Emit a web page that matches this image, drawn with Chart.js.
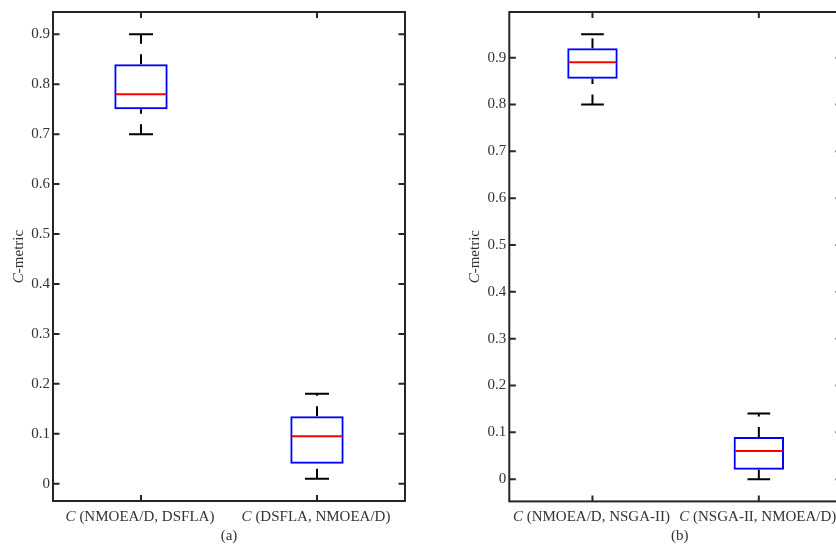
<!DOCTYPE html>
<html><head><meta charset="utf-8">
<script src="https://cdn.jsdelivr.net/npm/chart.js@4.4.1/dist/chart.umd.min.js"></script>
<style>
html,body{margin:0;padding:0;background:#fff;overflow:hidden;width:836px;height:544px;}
#wrap{position:relative;width:836px;height:544px;overflow:hidden;background:#fff;}
#ca{position:absolute;left:0;top:0;}
#cb{position:absolute;left:420px;top:0;}
</style></head><body>
<div id="wrap"><canvas id="ca" width="420" height="544"></canvas><canvas id="cb" width="430" height="544"></canvas></div>
<script>
// ---- data ----
const yTicks = [0, 0.1, 0.2, 0.3, 0.4, 0.5, 0.6, 0.7, 0.8, 0.9];

const categoriesA = ['C (NMOEA/D, DSFLA)', 'C (DSFLA, NMOEA/D)'];
const whiskerLowA  = [0.70, 0.01];
const q1A          = [0.75, 0.04];
const medianA      = [0.78, 0.095];
const q3A          = [0.84, 0.135];
const whiskerHighA = [0.90, 0.18];

const categoriesB = ['C (NMOEA/D, NSGA-II)', 'C (NSGA-II, NMOEA/D)'];
const whiskerLowB  = [0.80, 0.00];
const q1B          = [0.855, 0.02];
const medianB      = [0.89, 0.06];
const q3B          = [0.92, 0.09];
const whiskerHighB = [0.95, 0.14];

const yTitle = 'C-metric';
const captionA = '(a)';
const captionB = '(b)';

// ---- drawing helpers ----
const FAM = '"Liberation Serif", "Times New Roman", serif';
const TXT = '#333333';
Chart.defaults.font.family = FAM;

function drawMixed(ctx, text, cx, cy) {
  const first = text[0], rest = text.slice(1);
  ctx.font = 'italic 15px ' + FAM; const w1 = ctx.measureText(first).width;
  ctx.font = '15px ' + FAM; const w2 = ctx.measureText(rest).width;
  const sx = cx - (w1 + w2) / 2;
  ctx.textAlign = 'left'; ctx.textBaseline = 'middle'; ctx.fillStyle = TXT;
  ctx.font = 'italic 15px ' + FAM; ctx.fillText(first, sx, cy);
  ctx.font = '15px ' + FAM; ctx.fillText(rest, sx + w1, cy);
}

const boxExtras = {
  id: 'boxExtras',
  afterDatasetsDraw(chart) {
    const ctx = chart.ctx, y = chart.scales.y;
    chart.data.datasets.forEach((ds, di) => {
      const meta = chart.getDatasetMeta(di);
      meta.data.forEach((bar, i) => {
        const x = bar.x, w = bar.width;
        const yq1 = y.getPixelForValue(ds.data[i][0]);
        const yq3 = y.getPixelForValue(ds.data[i][1]);
        const yl = y.getPixelForValue(ds.whiskerLow[i]);
        const yh = y.getPixelForValue(ds.whiskerHigh[i]);
        const ym = y.getPixelForValue(ds.median[i]);
        ctx.save();
        ctx.strokeStyle = '#000'; ctx.lineWidth = 2; ctx.lineCap = 'butt';
        ctx.setLineDash([10, 10.5]);
        ctx.beginPath(); ctx.moveTo(x, yq3); ctx.lineTo(x, yh); ctx.stroke();
        ctx.beginPath(); ctx.moveTo(x, yl); ctx.lineTo(x, yq1); ctx.stroke();
        ctx.setLineDash([]);
        const cw = w * 0.45;
        ctx.beginPath();
        ctx.moveTo(x - cw / 2, yh); ctx.lineTo(x + cw / 2, yh);
        ctx.moveTo(x - cw / 2, yl); ctx.lineTo(x + cw / 2, yl);
        ctx.stroke();
        ctx.strokeStyle = '#ff0000';
        ctx.beginPath(); ctx.moveTo(x - w / 2 + 1.5, ym); ctx.lineTo(x + w / 2 - 1.5, ym); ctx.stroke();
        ctx.restore();
      });
    });
  }
};

const frame = {
  id: 'frame',
  afterDraw(chart, args, opts) {
    const ctx = chart.ctx, a = chart.chartArea, y = chart.scales.y, x = chart.scales.x;
    ctx.save();
    ctx.strokeStyle = '#262626'; ctx.lineWidth = 2;
    ctx.strokeRect(a.left, a.top, a.right - a.left, a.bottom - a.top);
    ctx.beginPath();
    y.ticks.forEach(t => {
      const py = y.getPixelForValue(t.value);
      ctx.moveTo(a.left, py); ctx.lineTo(a.left + 6.5, py);
      ctx.moveTo(a.right, py); ctx.lineTo(a.right - 6.5, py);
    });
    chart.data.labels.forEach((lab, i) => {
      const px = x.getPixelForValue(i);
      ctx.moveTo(px, a.top); ctx.lineTo(px, a.top + 6);
      ctx.moveTo(px, a.bottom); ctx.lineTo(px, a.bottom - 6);
    });
    ctx.stroke();
    // category labels
    chart.data.labels.forEach((lab, i) => {
      drawMixed(ctx, lab, x.getPixelForValue(i) - 1, a.bottom + 16);
    });
    // y title
    ctx.save();
    ctx.translate(a.left - 34, (a.top + a.bottom) / 2);
    ctx.rotate(-Math.PI / 2);
    drawMixed(ctx, opts.yTitle, 0, 0);
    ctx.restore();
    // caption
    ctx.font = '15px ' + FAM; ctx.fillStyle = TXT; ctx.textAlign = 'center'; ctx.textBaseline = 'middle';
    ctx.fillText(opts.caption, (a.left + a.right) / 2 + (opts.captionDx || 0), a.bottom + 35);
    ctx.restore();
  }
};

function makeChart(id, cats, lo, q1, med, q3, hi, caption, axisW, pad, captionDx) {
  const dmin = Math.min(...lo), dmax = Math.max(...hi), r = dmax - dmin;
  return new Chart(document.getElementById(id), {
    type: 'bar',
    data: {
      labels: cats,
      datasets: [{
        data: q1.map((v, i) => [v, q3[i]]),
        median: med, whiskerLow: lo, whiskerHigh: hi,
        backgroundColor: 'rgba(0,0,0,0)',
        borderColor: '#0000ff',
        borderWidth: 2,
        borderSkipped: false,
        barPercentage: 0.303,
        categoryPercentage: 1
      }]
    },
    options: {
      responsive: false, animation: false, devicePixelRatio: 1,
      layout: { padding: pad },
      plugins: { legend: { display: false }, tooltip: { enabled: false },
        frame: { yTitle: yTitle, caption: caption, captionDx: captionDx } },
      scales: {
        x: { display: false, offset: true },
        y: {
          min: dmin - 0.05 * r, max: dmax + 0.05 * r,
          grid: { display: false, drawTicks: false },
          border: { display: false },
          afterBuildTicks: s => { s.ticks = yTicks.map(v => ({ value: v })); },
          afterFit: s => { s.width = axisW; },
          ticks: {
            padding: 3, color: TXT,
            font: { size: 15, family: FAM, lineHeight: 1.2 },
            callback: v => (Math.abs(v) < 1e-9 ? '0' : (+v).toFixed(1))
          }
        }
      }
    },
    plugins: [boxExtras, frame]
  });
}

makeChart('ca', categoriesA, whiskerLowA, q1A, medianA, q3A, whiskerHighA, captionA, 53,
  { left: 0, top: 9.5, right: 15, bottom: 43 }, 0);
makeChart('cb', categoriesB, whiskerLowB, q1B, medianB, q3B, whiskerHighB, captionB, 89.3,
  { left: 0, top: 9.7, right: 8, bottom: 42.6 }, 4);
</script>
</body></html>
